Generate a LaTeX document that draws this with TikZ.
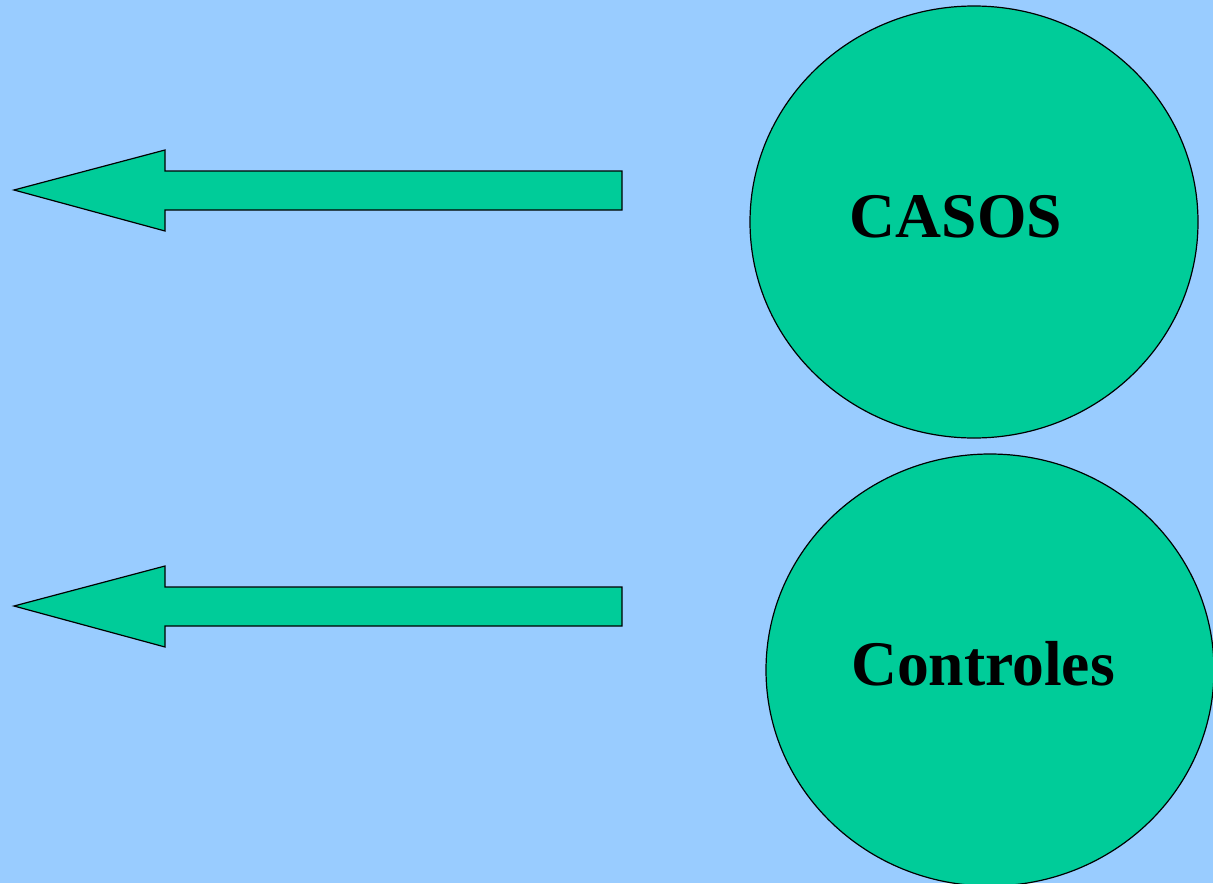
\documentclass[tikz,border=0pt]{standalone}
\usepackage{fontspec}
\setmainfont{Liberation Serif}
\usetikzlibrary{shapes.geometric}
\definecolor{bg}{HTML}{99CCFF}
\definecolor{grn}{HTML}{00CC99}
\tikzset{
  blob/.style={ellipse, draw=black, fill=grn, line width=0.6pt, inner sep=0pt},
  lbl/.style={anchor=base, font=\fontsize{31.8pt}{36pt}\selectfont\bfseries, inner sep=0pt},
  arr/.style={draw=black, fill=grn, line width=0.6pt, line join=miter}
}
\begin{document}
\begin{tikzpicture}[x=0.5pt,y=-0.5pt]
\useasboundingbox (0,0) rectangle (1213,883);
\fill[bg] (0,0) rectangle (1213,883);
\begin{scope}
\clip (0,0) rectangle (1213,883);
\node[blob, minimum width=224pt, minimum height=216pt] (casos) at (974,222) {};
\node[blob, minimum width=224pt, minimum height=216pt] (ctrl) at (990,670) {};
\end{scope}
\node[lbl] (t1) at (956,237) {CASOS};
\node[lbl] (t2) at (983,685) {Controles};
\draw[arr] (14,190) -- (165,150) -- (165,171) -- (622,171) -- (622,210) -- (165,210) -- (165,231) -- cycle;
\draw[arr] (14,606) -- (165,566) -- (165,587) -- (622,587) -- (622,626) -- (165,626) -- (165,647) -- cycle;
\end{tikzpicture}
\end{document}
